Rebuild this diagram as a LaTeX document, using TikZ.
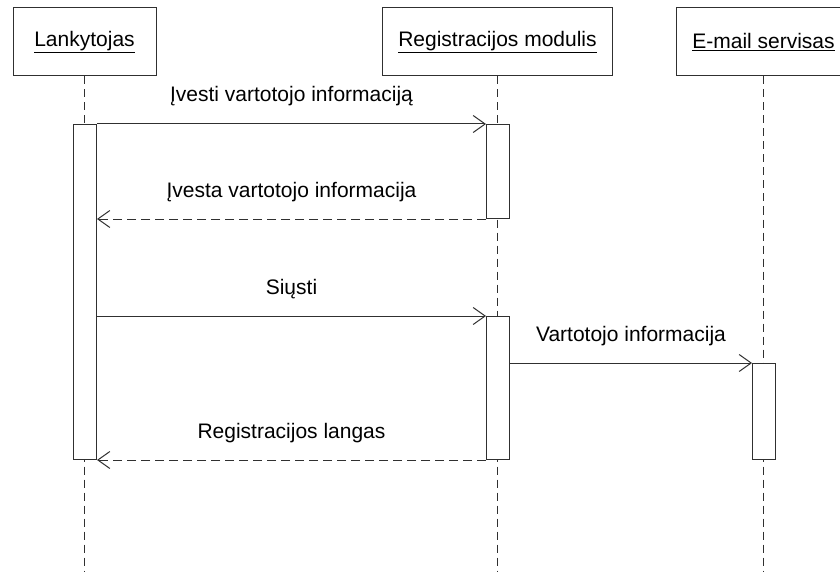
\documentclass[tikz,border=0pt]{standalone}
\usepackage{fontspec}
\setmainfont{Liberation Sans}
\usetikzlibrary{arrows.meta}
\definecolor{ink}{HTML}{303030}
\begin{document}
\begin{tikzpicture}[x=1pt,y=-1pt,
  every node/.style={font=\fontsize{21}{25}\selectfont, text=black},
  header/.style={draw=ink, line width=1pt, fill=white, inner sep=0pt, minimum height=68pt},
  lifeline/.style={draw=ink, line width=1pt, dash pattern=on 8pt off 5pt},
  activation/.style={draw=ink, line width=1pt, fill=white, inner sep=0pt, minimum width=23pt, anchor=north west},
  call/.style={draw=ink, line width=1pt, -{Straight Barb[length=12pt,width=17pt,line width=1pt]}},
  reply/.style={call, dash pattern=on 9pt off 5pt},
  msg/.style={anchor=base, inner sep=0pt}
]
\clip (0,0) rectangle (840,572);
\fill[white] (0,0) rectangle (840,572);

% participants
\node[header, minimum width=143pt] (lank) at (84.5,42) {\underline{Lankytojas}};
\node[header, minimum width=230pt] (reg) at (497.5,42) {\underline{Registracijos modulis}};
\node[header, minimum width=175pt] (mail) at (763.5,42) {\underline{E-mail servisas}};

% lifeline ends
\coordinate (lankEnd) at (84.5,572);
\coordinate (regEnd) at (497.5,572);
\coordinate (mailEnd) at (763.5,572);
\draw[lifeline] (lank.south) -- (lankEnd);
\draw[lifeline] (reg.south) -- (regEnd);
\draw[lifeline] (mail.south) -- (mailEnd);

% activation bars
\node[activation, minimum height=335pt] (actL) at (73,124) {};
\node[activation, minimum height=94pt] (actR1) at (486,124) {};
\node[activation, minimum height=143pt] (actR2) at (486,316) {};
\node[activation, minimum height=96pt] (actE) at (752,363) {};

% messages
\draw[call] (actL.north east) -- (actR1.north west)
  node[msg, midway, yshift=22pt] {Įvesti vartotojo informaciją};
\draw[reply] (actR1.south west) -- (actR1.south west -| actL.east)
  node[msg, midway, yshift=22pt] {Įvesta vartotojo informacija};
\draw[call] (actR2.north west -| actL.east) -- (actR2.north west)
  node[msg, midway, yshift=22pt] {Siųsti};
\draw[call] (actE.north west -| actR2.east) -- (actE.north west)
  node[msg, midway, yshift=22pt] {Vartotojo informacija};
\draw[reply] (actR2.south west) -- (actL.south east)
  node[msg, midway, yshift=22pt] {Registracijos langas};
\end{tikzpicture}
\end{document}
